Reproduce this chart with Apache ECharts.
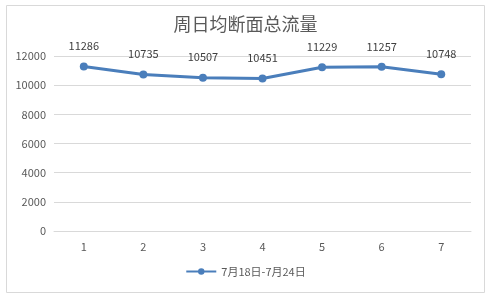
<!DOCTYPE html>
<html><head><meta charset="utf-8">
<script src="https://cdn.jsdelivr.net/npm/echarts@6/dist/echarts.min.js"></script>
<style>html,body{margin:0;padding:0;background:#fff}#c{width:491px;height:298px}</style>
</head><body><div id="c"></div>
<script>
const categories = ['1','2','3','4','5','6','7'];
const values = [11286, 10735, 10507, 10451, 11229, 11257, 10748];
const seriesName = '7月18日-7月24日';
const titleText = '周日均断面总流量';
const chart = echarts.init(document.getElementById('c'));
const font = '"Microsoft YaHei","Noto Sans CJK SC",sans-serif';
chart.setOption({
  animation:false,
  graphic:[{type:'rect',shape:{x:6.5,y:5.5,width:478,height:287},style:{fill:'none',stroke:'#d9d9d9',lineWidth:1}}],
  title:{text:titleText,left:'center',top:10,textStyle:{fontSize:18,fontWeight:'normal',color:'#595959',fontFamily:font}},
  legend:{bottom:16,left:'center',itemWidth:30,itemHeight:8,itemGap:4,textStyle:{fontSize:11,color:'#595959',fontFamily:font},data:[seriesName]},
  grid:{left:54,right:20,top:56,bottom:67,containLabel:false},
  xAxis:{type:'category',data:categories,boundaryGap:true,axisLine:{show:true,lineStyle:{color:'#d9d9d9'}},axisTick:{show:false},axisLabel:{color:'#595959',fontSize:11,margin:10,fontFamily:font}},
  yAxis:{type:'value',min:0,max:12000,interval:2000,axisLine:{show:false},axisTick:{show:false},splitLine:{lineStyle:{color:'#d9d9d9'}},axisLabel:{color:'#595959',fontSize:11,margin:8,fontFamily:font,formatter:v=>String(v)}},
  series:[{name:seriesName,type:'line',data:values,symbol:'circle',symbolSize:8,lineStyle:{width:3,color:'#4A7EBB'},itemStyle:{color:'#4A7EBB'},
    label:{show:true,position:'top',distance:11,color:'#404040',fontSize:11,fontFamily:font}}]
});
</script></body></html>
